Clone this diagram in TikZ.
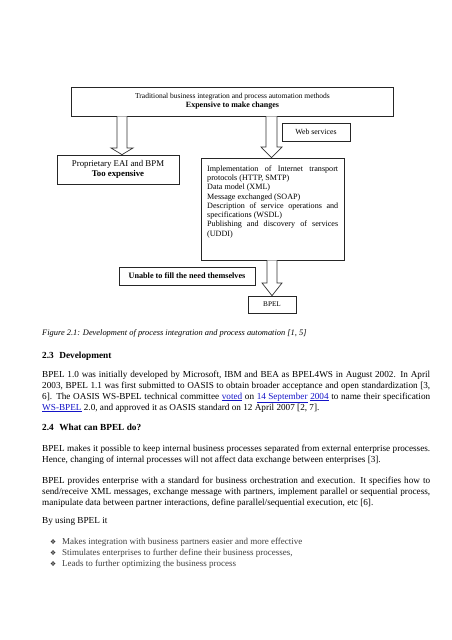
\documentclass[tikz,border=0pt]{standalone}
\usepackage{fontspec}
\setmainfont{Liberation Serif}
\newfontfamily\symfont{DejaVu Sans}
\definecolor{linkblue}{RGB}{20,20,200}
\newcommand\lnk[1]{\textcolor{linkblue}{\underline{#1}}}
\newcommand\fl[1]{\makebox[388pt][s]{#1}}
\newcommand\wl[1]{\makebox[131pt][s]{#1}}
\begin{document}
\begin{tikzpicture}[x=1pt,y=-1pt,
  box/.style={draw=black!85, line width=0.7pt, inner sep=0pt, align=center},
  barrow/.style={draw=black!80, line width=0.7pt, fill=white, line join=miter},
  dtext/.style={font=\fontsize{8.1}{9.3}\selectfont},
  body/.style={anchor=base west, inner sep=0pt, font=\fontsize{9.2}{11}\selectfont},
  head/.style={anchor=base west, inner sep=0pt, font=\fontsize{9.3}{11}\selectfont\bfseries},
  bul/.style={anchor=base west, inner sep=0pt, text=black!80, font=\fontsize{6.8}{7}\selectfont\symfont},
  bultext/.style={anchor=base west, inner sep=0pt, text=black!75, font=\fontsize{9}{11}\selectfont}
]
\useasboundingbox[fill=white] (0,0) rectangle (452,640);

% diagram
\node[box, minimum width=322pt, minimum height=29pt, font=\fontsize{7.5}{9}\selectfont] (trad) at (232.5,101.5)
  {Traditional business integration and process automation methods\\ {\fontsize{8}{9}\selectfont\bfseries Expensive to make changes}};
\node[box, minimum width=122pt, minimum height=29pt, font=\fontsize{8.8}{9.6}\selectfont] (eai) at (118,169.5)
  {Proprietary EAI and BPM\\ \textbf{Too expensive}};
\node[box, minimum width=68pt, minimum height=18pt, font=\fontsize{7.8}{8}\selectfont] (web) at (316,132) {Web services};
\node[box, minimum width=143pt, minimum height=102pt] (ws) at (272.5,209) {};
\node[dtext, anchor=north west, inner sep=0pt, align=left] (wstext) at (207,165.2)
  {\wl{Implementation of Internet transport}\\
   protocols (HTTP, SMTP)\\
   Data model (XML)\\
   Message exchanged (SOAP)\\
   \wl{Description of service operations and}\\
   specifications (WSDL)\\
   \wl{Publishing and discovery of services}\\
   (UDDI)};
\node[box, minimum width=136pt, minimum height=18pt, font=\fontsize{8.2}{9}\selectfont\bfseries] (unable) at (187,276)
  {Unable to fill the need themselves};
\node[box, minimum width=48pt, minimum height=17pt, font=\fontsize{7.2}{8}\selectfont] (bpel) at (272,304.5) {BPEL};

\draw[barrow] (117,0 |- trad.south) -- (117,148) -- (111,148) -- (122,0 |- eai.north)
  -- (133,148) -- (127,148) -- (127,0 |- trad.south);
\draw[barrow] (266,0 |- trad.south) -- (266,147) -- (261,147) -- (271.5,0 |- ws.north)
  -- (282,147) -- (277,147) -- (277,0 |- trad.south);
\draw[barrow] (267,0 |- ws.south) -- (267,283) -- (262,283) -- (272,0 |- bpel.north)
  -- (282,283) -- (277,283) -- (277,0 |- ws.south);

% caption and text
\node[body, font=\fontsize{8.4}{11}\selectfont\itshape] (cap) at (42,335)
  {Figure 2.1: Development of process integration and process automation [1, 5]};
\node[head] (h23) at (42,358) {2.3\hspace{5.5pt}Development};
\node[body] (p1a) at (42,377) {\fl{BPEL 1.0 was initially developed by Microsoft, IBM and BEA as BPEL4WS in August 2002. In April}};
\node[body] (p1b) at (42,388) {\fl{2003, BPEL 1.1 was first submitted to OASIS to obtain broader acceptance and open standardization [3,}};
\node[body] (p1c) at (42,399) {\fl{6]. The OASIS WS-BPEL technical committee \lnk{voted} on \lnk{14 September} \lnk{2004} to name their specification}};
\node[body] (p1d) at (42,410) {\lnk{WS-BPEL} 2.0, and approved it as OASIS standard on 12 April 2007 [2, 7].};
\node[head] (h24) at (42,430) {2.4\hspace{5.5pt}What can BPEL do?};
\node[body] (p2a) at (42,451) {\fl{BPEL makes it possible to keep internal business processes separated from external enterprise processes.}};
\node[body] (p2b) at (42,462) {Hence, changing of internal processes will not affect data exchange between enterprises [3].};
\node[body] (p3a) at (42,483) {\fl{BPEL provides enterprise with a standard for business orchestration and execution. It specifies how to}};
\node[body] (p3b) at (42,494) {\fl{send/receive XML messages, exchange message with partners, implement parallel or sequential process,}};
\node[body] (p3c) at (42,505) {manipulate data between partner interactions, define parallel/sequential execution, etc [6].};
\node[body] (p4) at (42,523) {By using BPEL it};
\node[bul] (u1) at (50,544) {❖};
\node[bultext] (t1) at (62,544) {Makes integration with business partners easier and more effective};
\node[bul] (u2) at (50,555) {❖};
\node[bultext] (t2) at (62,555) {Stimulates enterprises to further define their business processes,};
\node[bul] (u3) at (50,566) {❖};
\node[bultext] (t3) at (62,566) {Leads to further optimizing the business process};
\end{tikzpicture}
\end{document}
